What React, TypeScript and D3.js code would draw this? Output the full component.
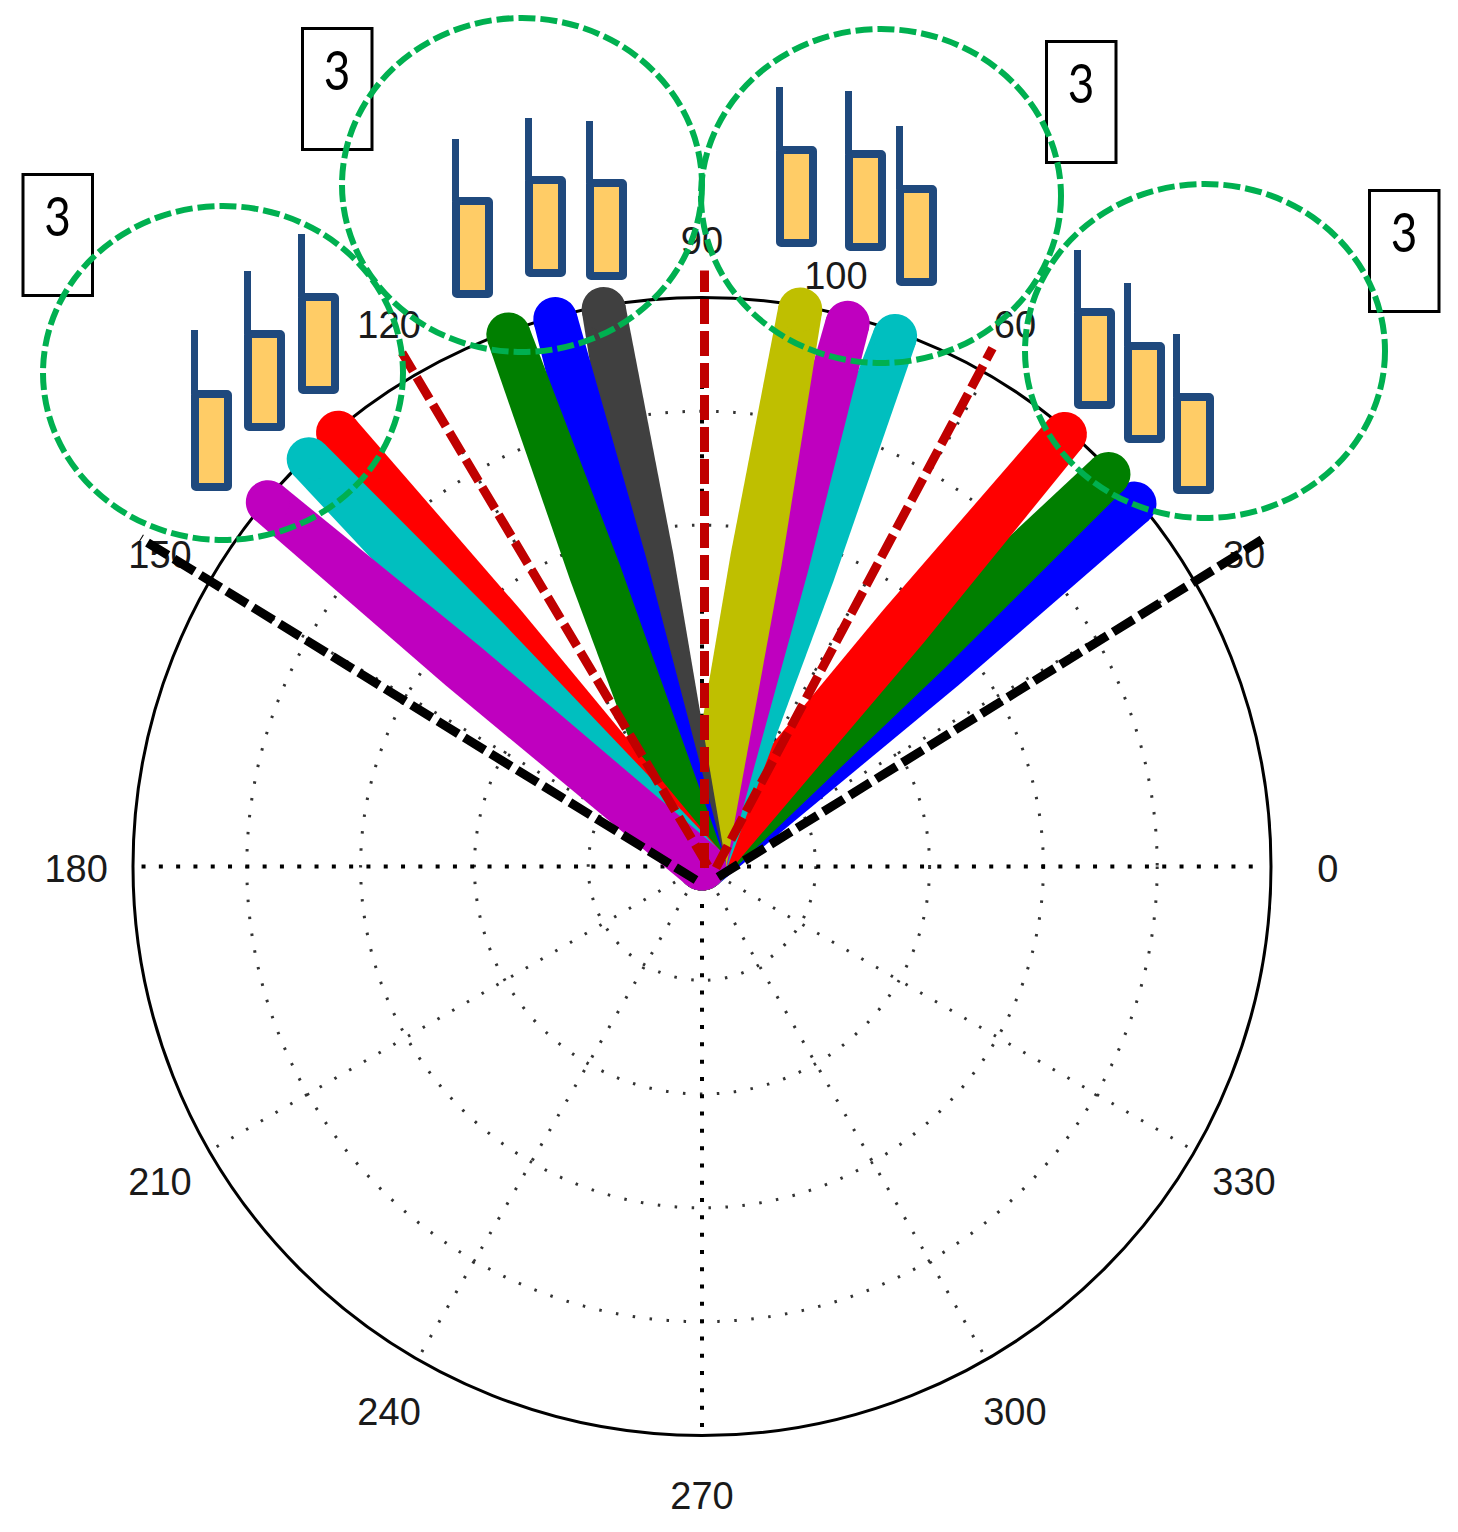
import * as d3 from 'd3';

// beam directions (degrees) and lengths, in drawing order
const beamAngles = [40, 44, 50, 70, 75, 80, 100, 105, 110, 130, 134, 140];
const beamValues = [99.2, 99.3, 99.2, 99.2, 98.9, 99.4, 99.5, 99.6, 99.5, 99.5, 99.5, 99.6];

const ringTicks = [20, 40, 60, 80, 100];
const spokeAngles = [0, 30, 60, 90, 120, 150];
const angleLabels = [0, 30, 60, 90, 120, 150, 180, 210, 240, 270, 300, 330];
const boxLabels = ['3', '3', '3', '3'];

// sector boundaries drawn over the plot: direction and length from their own start point
const blackRayAngles = [31.8, 148.4];
const blackRayValues = [112.5, 114.6];
const redRayAngles = [62, 90, 120.8];
const redRayValues = [103.5, 105, 105];

const palette = ['#0000ff', '#007f00', '#ff0000', '#00bfbf', '#bf00bf', '#bfbf00', '#404040'];
const font = '"Liberation Sans", Arial, sans-serif';
const cx = 702;
const cy = 866.5;
const outer = 569;

const blackRayStart = [[718, 877], [696, 880]];
const redRayStart = [[716, 868], [704.5, 868], [708, 866]];

const circles = [
  [223, 373],
  [522, 185],
  [881, 196],
  [1205, 351],
];
const boxes = [
  [23, 174.5],
  [302.5, 28.5],
  [1046.5, 41.5],
  [1369.5, 190.5],
];
const icons = [
  [191, 330, 390], [244, 271, 330], [298, 234, 293],
  [452, 139, 197], [525, 118, 176], [586, 121, 179],
  [776, 87, 146], [845, 91, 150], [896, 126, 185],
  [1074, 250, 308], [1124, 283, 342], [1173, 334, 393],
];

const r = d3.scaleLinear().domain([0, 100]).range([0, outer]);
const beamColor = d3.scaleOrdinal<number, string>().domain(d3.range(palette.length)).range(palette);
// the beams are a little fatter mid-way than at the tip
const beamWidth = d3.scaleLinear().domain([0, 55, 100]).range([48, 52, 44]);
const rad = (deg: number) => (deg * Math.PI) / 180;
const px = (deg: number, v: number) => r(v) * Math.cos(rad(deg));
const py = (deg: number, v: number) => -r(v) * Math.sin(rad(deg));

const beamArea = d3
  .area<number>()
  .x((d) => r(d))
  .y0((d) => -beamWidth(d) / 2)
  .y1((d) => beamWidth(d) / 2);

export default function App() {
  return (
    <svg
      width={1458}
      height={1532}
      viewBox="0 0 1458 1532"
      style={{ position: 'absolute', left: 0, top: 0, background: '#fff' }}
    >
      <g transform={`translate(${cx},${cy})`}>
        {/* dotted grid */}
        {ringTicks.slice(0, -1).map((t) => (
          <circle key={t} r={r(t)} fill="none" stroke="#333" strokeWidth={3} strokeDasharray="2.5 14.5" />
        ))}
        {spokeAngles.map((a) => {
          const strong = a === 0 || a === 90;
          return (
            <line
              key={a}
              x1={px(a + 180, 98.5)}
              y1={py(a + 180, 98.5)}
              x2={px(a, 98.5)}
              y2={py(a, 98.5)}
              stroke={strong ? '#000' : '#333'}
              strokeWidth={strong ? 4 : 3}
              strokeDasharray={strong ? '4 13.3' : '2.5 14.5'}
            />
          );
        })}
        <circle r={r(100)} fill="none" stroke="#000" strokeWidth={3} />

        {angleLabels.map((a) => (
          <text
            key={a}
            x={px(a, 110)}
            y={py(a, 110.3) + 2}
            textAnchor="middle"
            dominantBaseline="central"
            fontFamily={font}
            fontSize={38}
            fill="#1a1a1a"
          >
            {a}
          </text>
        ))}
        {/* radial tick labels sit at 82 degrees, as in a MATLAB polar plot */}
        {ringTicks.map((t) => (
          <text
            key={t}
            x={px(82, t * 1.05) + 19}
            y={py(82, t * 1.05) + 14}
            fontFamily={font}
            fontSize={38}
            fill="#1a1a1a"
          >
            {t}
          </text>
        ))}

        {/* beams */}
        {beamAngles.map((a, i) => {
          const v = beamValues[i];
          const color = beamColor(i % palette.length);
          return (
            <g key={i} transform={`rotate(${-a})`} fill={color}>
              <path d={beamArea([0, 55, v]) ?? ''} />
              <circle r={beamWidth(0) / 2} />
              <circle cx={r(v)} r={beamWidth(v) / 2} />
            </g>
          );
        })}
      </g>

      {/* sector boundaries */}
      {redRayAngles.map((a, i) => (
        <line
          key={a}
          x1={redRayStart[i][0]}
          y1={redRayStart[i][1]}
          x2={redRayStart[i][0] + px(a, redRayValues[i])}
          y2={redRayStart[i][1] + py(a, redRayValues[i])}
          stroke="#c00000"
          strokeWidth={9}
          strokeDasharray="25 7"
        />
      ))}
      {blackRayAngles.map((a, i) => (
        <line
          key={a}
          x1={blackRayStart[i][0]}
          y1={blackRayStart[i][1]}
          x2={blackRayStart[i][0] + px(a, blackRayValues[i])}
          y2={blackRayStart[i][1] + py(a, blackRayValues[i])}
          stroke="#000"
          strokeWidth={9}
          strokeDasharray="24 7"
        />
      ))}

      {/* small bar icons */}
      {icons.map(([x, top, y], i) => (
        <g key={i}>
          <rect x={x + 4} y={y + 4} width={33} height={93} fill="#ffcc66" stroke="#1f497d" strokeWidth={8} rx={1} />
          <line x1={x + 3.5} x2={x + 3.5} y1={top} y2={y + 4} stroke="#1f497d" strokeWidth={7} />
        </g>
      ))}

      {/* count boxes */}
      {boxes.map(([x, y], i) => (
        <g key={i}>
          <rect x={x} y={y} width={69.5} height={121} fill="none" stroke="#000" strokeWidth={3} />
          <text
            transform={`translate(${x + 34.5},${y + 61}) scale(0.85,1)`}
            textAnchor="middle"
            fontFamily="Lato, sans-serif"
            fontWeight={400}
            fontSize={54}
            fill="#000"
          >
            {boxLabels[i]}
          </text>
        </g>
      ))}

      {/* group outlines */}
      {circles.map(([x, y], i) => (
        <ellipse
          key={i}
          cx={x}
          cy={y}
          rx={180}
          ry={167}
          fill="none"
          stroke="#00b050"
          strokeWidth={6}
          strokeDasharray="17 5"
        />
      ))}
    </svg>
  );
}
